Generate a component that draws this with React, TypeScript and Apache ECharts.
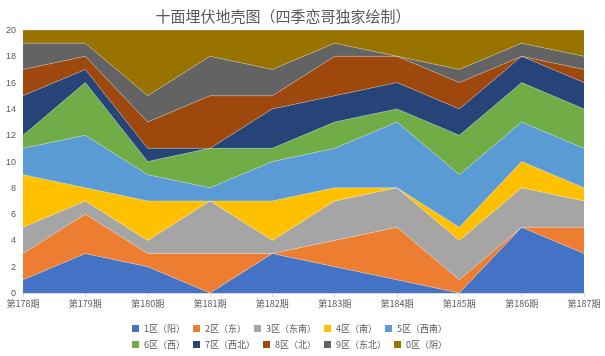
import React, { useEffect, useRef } from "react";
import * as echarts from "echarts";

const categories = ["第178期", "第179期", "第180期", "第181期", "第182期", "第183期", "第184期", "第185期", "第186期", "第187期"];
const seriesNames = ["1区（阳）", "2区（东）", "3区（东南）", "4区（南）", "5区（西南）", "6区（西）", "7区（西北）", "8区（北）", "9区（东北）", "0区（阴）"];
const zone1 = [1, 3, 2, 0, 3, 2, 1, 0, 5, 3];
const zone2 = [2, 3, 1, 3, 0, 2, 4, 1, 0, 2];
const zone3 = [2, 1, 1, 4, 1, 3, 3, 3, 3, 2];
const zone4 = [4, 1, 3, 0, 3, 1, 0, 1, 2, 1];
const zone5 = [2, 4, 2, 1, 3, 3, 5, 4, 3, 3];
const zone6 = [1, 4, 1, 3, 1, 2, 1, 3, 3, 3];
const zone7 = [3, 1, 1, 0, 3, 2, 2, 2, 2, 2];
const zone8 = [2, 1, 2, 4, 1, 3, 2, 2, 0, 1];
const zone9 = [2, 1, 2, 3, 2, 1, 0, 1, 1, 1];
const zone0 = [1, 1, 5, 2, 3, 1, 2, 3, 1, 2];
const yTicks = { min: 0, max: 20, interval: 2 };

const colors = ["#4472C4", "#ED7D31", "#A5A5A5", "#FFC000", "#5B9BD5", "#70AD47", "#264478", "#9E480E", "#636363", "#997300"];

export default function App() {
  const ref = useRef<HTMLDivElement>(null);
  useEffect(() => {
    if (!ref.current) return;
    const chart = echarts.init(ref.current, undefined, { renderer: "svg" });
    const data = [zone1, zone2, zone3, zone4, zone5, zone6, zone7, zone8, zone9, zone0];
    const legendCommon = {
      itemWidth: 7,
      itemHeight: 7,
      itemGap: 8,
      icon: "rect",
      textStyle: { fontSize: 9, color: "#595959", width: 50, fontFamily: "Noto Sans CJK SC" },
    };
    chart.setOption({
      animation: false,
      color: colors,
      title: {
        text: "十面埋伏地壳图（四季恋哥独家绘制）",
        left: 278,
        textAlign: "center",
        top: 3,
        textStyle: { fontSize: 15, fontWeight: "normal", color: "#595959", fontFamily: "Noto Sans CJK SC" },
      },
      grid: { left: 23, right: 21, top: 30, bottom: 63 },
      legend: [
        { ...legendCommon, data: seriesNames.slice(0, 5), left: 127, top: 319 },
        { ...legendCommon, data: seriesNames.slice(5), left: 127, top: 335 },
      ],
      xAxis: {
        type: "category",
        data: categories,
        boundaryGap: false,
        axisLine: { lineStyle: { color: "#D9D9D9" } },
        axisTick: { show: true, length: 4, lineStyle: { color: "#D9D9D9" } },
        axisLabel: { fontSize: 9, color: "#595959", margin: 6, fontFamily: "Noto Sans CJK SC" },
      },
      yAxis: {
        type: "value",
        min: yTicks.min,
        max: yTicks.max,
        interval: yTicks.interval,
        splitLine: { show: false },
        axisLine: { show: false },
        axisTick: { show: false },
        axisLabel: { fontSize: 9, color: "#595959", margin: 7 },
      },
      series: seriesNames.map((name, i) => ({
        name,
        type: "line",
        stack: "total",
        data: data[i],
        symbol: "none",
        lineStyle: { width: 0.6, color: "rgba(255,255,255,0.45)" },
        areaStyle: { color: colors[i], opacity: 1 },
        itemStyle: { color: colors[i] },
      })),
    });
    return () => chart.dispose();
  }, []);
  return <div ref={ref} style={{ position: "fixed", left: 0, top: 0, width: 605, height: 356 }} />;
}
